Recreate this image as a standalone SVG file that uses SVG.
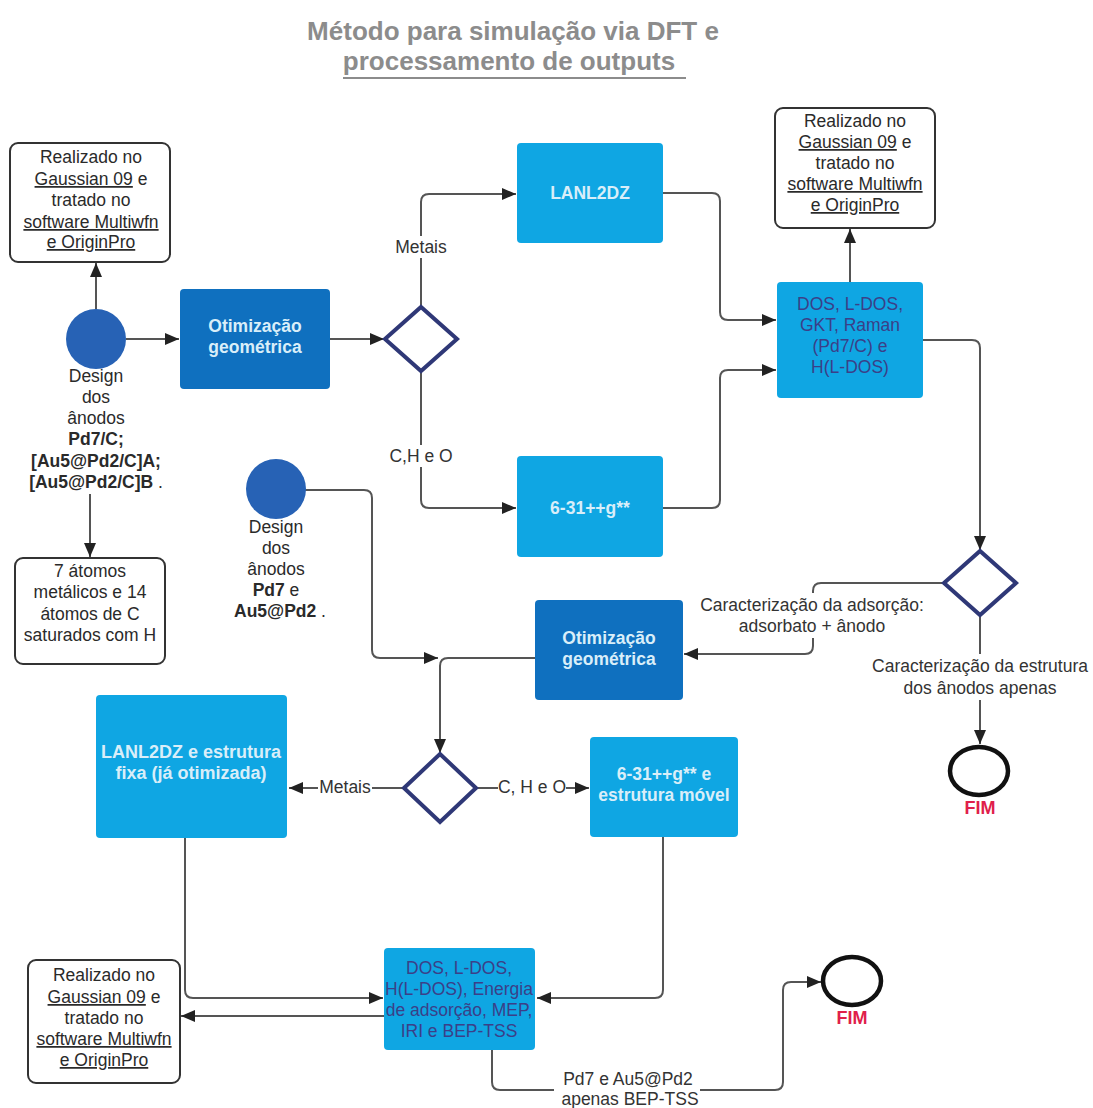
<svg xmlns="http://www.w3.org/2000/svg" width="1093" height="1108" viewBox="0 0 1093 1108">
<style>
text{font-family:"Liberation Sans",Arial,sans-serif;font-size:17.5px;text-anchor:middle}
.note{fill:#fff;stroke:#333;stroke-width:2}
.nt{fill:#2a2a2a}
.dark{fill:#0f70bf}
.light{fill:#0fa6e3}
.wt{fill:#d9eef9;font-weight:bold}
.bt{fill:#3b3f88}
.dia{fill:#fff;stroke:#2f3877;stroke-width:4;stroke-linejoin:miter}
.start{fill:#2762b5}
.end{fill:#fff;stroke:#111;stroke-width:4.5}
.fim{fill:#e0204a;font-weight:bold;font-size:18px}
.lb{fill:#333}
.bg{fill:#fff}
.c path{fill:none;stroke:#555;stroke-width:2}
.b{font-weight:bold}
</style>
<defs>
<marker id="arr" viewBox="0 0 14 12" refX="14" refY="6" markerWidth="14" markerHeight="12" markerUnits="userSpaceOnUse" orient="auto">
<path d="M0,0 L14,6 L0,12 z" fill="#222"/>
</marker>
</defs>
<rect width="1093" height="1108" fill="#fff"/>

<g id="title">
<text x="513" y="40" style="font-size:26px;font-weight:bold" fill="#8c8c8c">Método para simulação via DFT e</text>
<text x="509" y="70" style="font-size:26px;font-weight:bold" fill="#8c8c8c">processamento de outputs</text>
<line x1="343" y1="78" x2="686" y2="78" stroke="#8c8c8c" stroke-width="2"/>
</g>

<g class="c" id="connectors">
<path d="M96 309 V263" marker-end="url(#arr)"/>
<path d="M126 339 H179" marker-end="url(#arr)"/>
<path d="M90 494 V557" marker-end="url(#arr)"/>
<path d="M330 339 H384" marker-end="url(#arr)"/>
<path d="M421 307 V202 Q421 194 429 194 H516" marker-end="url(#arr)"/>
<path d="M421 371 V500 Q421 508 429 508 H516" marker-end="url(#arr)"/>
<path d="M663 193 H712 Q720 193 720 201 V312 Q720 320 728 320 H776" marker-end="url(#arr)"/>
<path d="M663 508 H712 Q720 508 720 500 V378 Q720 370 728 370 H776" marker-end="url(#arr)"/>
<path d="M850 282 V229" marker-end="url(#arr)"/>
<path d="M923 340 H972 Q980 340 980 348 V550" marker-end="url(#arr)"/>
<path d="M944 583 H821 Q813 583 813 591 V646 Q813 654 805 654 H684" marker-end="url(#arr)"/>
<path d="M980 615 V744" marker-end="url(#arr)"/>
<path d="M305 490 H364 Q372 490 372 498 V650 Q372 658 380 658 H438" marker-end="url(#arr)"/>
<path d="M535 658 H448 Q440 658 440 666 V753" marker-end="url(#arr)"/>
<path d="M404 788 H289" marker-end="url(#arr)"/>
<path d="M476 788 H589" marker-end="url(#arr)"/>
<path d="M185 838 V990 Q185 998 193 998 H383" marker-end="url(#arr)"/>
<path d="M663 837 V990 Q663 998 655 998 H537" marker-end="url(#arr)"/>
<path d="M384 1016 H181" marker-end="url(#arr)"/>
<path d="M492 1050 V1082 Q492 1090 500 1090 H775 Q783 1090 783 1082 V990 Q783 982 791 982 H821" marker-end="url(#arr)"/>
</g>

<g id="labels">
<rect class="bg" x="392" y="236" width="58" height="22"/>
<text class="lb" x="421" y="253">Metais</text>
<rect class="bg" x="386" y="445" width="70" height="22"/>
<text class="lb" x="421" y="462">C,H e O</text>
<rect class="bg" x="697" y="593" width="232" height="45"/>
<text class="lb" x="812" y="611">Caracterização da adsorção:</text>
<text class="lb" x="812" y="632">adsorbato + ânodo</text>
<rect class="bg" x="866" y="654" width="226" height="46"/>
<text class="lb" x="980" y="672">Caracterização da estrutura</text>
<text class="lb" x="980" y="694">dos ânodos apenas</text>
<rect class="bg" x="318" y="776" width="54" height="22"/>
<text class="lb" x="345" y="793">Metais</text>
<rect class="bg" x="498" y="776" width="68" height="22"/>
<text class="lb" x="532" y="793">C, H e O</text>
<rect class="bg" x="554" y="1067" width="146" height="41"/>
<text class="lb" x="628" y="1085">Pd7 e Au5@Pd2</text>
<text class="lb" x="630" y="1105">apenas BEP-TSS</text>
</g>

<g id="note1">
<rect class="note" x="10" y="143" width="160" height="119" rx="8"/>
<text class="nt" x="91" y="163">Realizado no</text>
<text class="nt" x="91" y="185"><tspan text-decoration="underline">Gaussian 09</tspan> e</text>
<text class="nt" x="91" y="206">tratado no</text>
<text class="nt" x="91" y="228" text-decoration="underline">software Multiwfn</text>
<text class="nt" x="91" y="248" text-decoration="underline">e OriginPro</text>
</g>

<g id="start1">
<circle class="start" cx="96" cy="339" r="30"/>
<text class="nt" x="96" y="382">Design</text>
<text class="nt" x="96" y="403">dos</text>
<text class="nt" x="96" y="424">ânodos</text>
<text class="nt b" x="96" y="445">Pd7/C;</text>
<text class="nt b" x="96" y="467">[Au5@Pd2/C]A;</text>
<text class="nt b" x="96" y="488">[Au5@Pd2/C]B <tspan style="font-weight:normal">.</tspan></text>
</g>

<g id="note2">
<rect class="note" x="15" y="558" width="150" height="106" rx="8"/>
<text class="nt" x="90" y="577">7 átomos</text>
<text class="nt" x="90" y="598">metálicos e 14</text>
<text class="nt" x="90" y="620">átomos de C</text>
<text class="nt" x="90" y="641">saturados com H</text>
</g>

<g id="opt1">
<rect class="dark" x="180" y="289" width="150" height="100" rx="4"/>
<text class="wt" x="255" y="332">Otimização</text>
<text class="wt" x="255" y="353">geométrica</text>
</g>

<g id="dec1">
<polygon class="dia" points="385,339 421,307 457,339 421,371"/>
</g>

<g id="lanl1">
<rect class="light" x="517" y="143" width="146" height="100" rx="4"/>
<text class="wt" x="590" y="199">LANL2DZ</text>
</g>

<g id="b631">
<rect class="light" x="517" y="456" width="146" height="101" rx="4"/>
<text class="wt" x="590" y="514">6-31++g**</text>
</g>

<g id="dos1">
<rect class="light" x="777" y="282" width="146" height="116" rx="4"/>
<text class="bt" x="850" y="310">DOS, L-DOS,</text>
<text class="bt" x="850" y="331">GKT, Raman</text>
<text class="bt" x="850" y="352">(Pd7/C) e</text>
<text class="bt" x="850" y="373">H(L-DOS)</text>
</g>

<g id="note3">
<rect class="note" x="775" y="108" width="160" height="120" rx="8"/>
<text class="nt" x="855" y="127">Realizado no</text>
<text class="nt" x="855" y="148"><tspan text-decoration="underline">Gaussian 09</tspan> e</text>
<text class="nt" x="855" y="169">tratado no</text>
<text class="nt" x="855" y="190" text-decoration="underline">software Multiwfn</text>
<text class="nt" x="855" y="211" text-decoration="underline">e OriginPro</text>
</g>

<g id="dec2">
<polygon class="dia" points="944,583 980,551 1016,583 980,615"/>
</g>

<g id="fim1">
<ellipse class="end" cx="979" cy="771" rx="29" ry="24"/>
<text class="fim" x="980" y="814">FIM</text>
</g>

<g id="start2">
<circle class="start" cx="276" cy="489" r="30"/>
<text class="nt" x="276" y="533">Design</text>
<text class="nt" x="276" y="554">dos</text>
<text class="nt" x="276" y="575">ânodos</text>
<text class="nt" x="276" y="596"><tspan class="b">Pd7</tspan> e</text>
<text class="nt b" x="280" y="617">Au5@Pd2 <tspan style="font-weight:normal">.</tspan></text>
</g>

<g id="opt2">
<rect class="dark" x="535" y="600" width="148" height="100" rx="4"/>
<text class="wt" x="609" y="644">Otimização</text>
<text class="wt" x="609" y="665">geométrica</text>
</g>

<g id="dec3">
<polygon class="dia" points="404,788 440,754 476,788 440,822"/>
</g>

<g id="lanl2">
<rect class="light" x="96" y="695" width="191" height="143" rx="4"/>
<text class="wt" x="191" y="758" style="font-size:18px">LANL2DZ e estrutura</text>
<text class="wt" x="191" y="779" style="font-size:18px">fixa (já otimizada)</text>
</g>

<g id="b631b">
<rect class="light" x="590" y="737" width="148" height="100" rx="4"/>
<text class="wt" x="664" y="780">6-31++g** e</text>
<text class="wt" x="664" y="801">estrutura móvel</text>
</g>

<g id="dos2">
<rect class="light" x="384" y="948" width="151" height="102" rx="4"/>
<text class="bt" x="459" y="974">DOS, L-DOS,</text>
<text class="bt" x="459" y="995">H(L-DOS), Energia</text>
<text class="bt" x="459" y="1016">de adsorção, MEP,</text>
<text class="bt" x="459" y="1037">IRI e BEP-TSS</text>
</g>

<g id="note4">
<rect class="note" x="28" y="960" width="152" height="123" rx="8"/>
<text class="nt" x="104" y="981">Realizado no</text>
<text class="nt" x="104" y="1003"><tspan text-decoration="underline">Gaussian 09</tspan> e</text>
<text class="nt" x="104" y="1024">tratado no</text>
<text class="nt" x="104" y="1045" text-decoration="underline">software Multiwfn</text>
<text class="nt" x="104" y="1066" text-decoration="underline">e OriginPro</text>
</g>

<g id="fim2">
<ellipse class="end" cx="852" cy="981" rx="29" ry="24"/>
<text class="fim" x="852" y="1024">FIM</text>
</g>
</svg>
